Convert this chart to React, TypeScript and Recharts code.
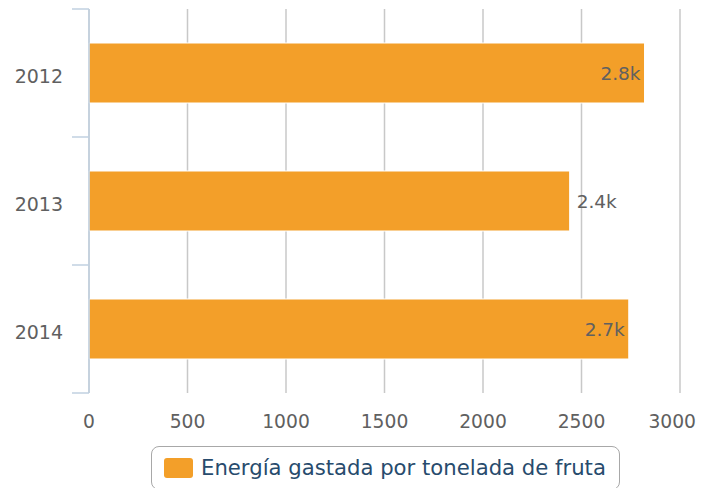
import React from 'react';
import { BarChart, Bar, XAxis, YAxis, CartesianGrid, Legend, LabelList } from 'recharts';

const years = ['2012', '2013', '2014'];
const energy = [2820, 2440, 2740];
const xTicks = [0, 500, 1000, 1500, 2000, 2500, 3000];
const seriesName = 'Energía gastada por tonelada de fruta';

const data = years.map((y, i) => ({ year: y, value: energy[i] }));

const FONT = '"DejaVu Sans", Verdana, sans-serif';
const ORANGE = '#f39f29';
const AXIS = '#c0d0e0';
const TEXT = '#606060';

const YTick = (props: any) => {
  const { x, y, payload, index, visibleTicksCount, height } = props;
  const half = payload && payload.offset ? payload.offset : height / visibleTicksCount / 2;
  return (
    <g>
      <line x1={x - 17} x2={x} y1={y - half} y2={y - half} stroke={AXIS} strokeWidth={1.5} />
      {index === visibleTicksCount - 1 && (
        <line x1={x - 17} x2={x} y1={y + half} y2={y + half} stroke={AXIS} strokeWidth={1.5} />
      )}
      <text x={x - 26} y={y + 9.5} textAnchor="end" fill={TEXT} fontSize={19} fontFamily={FONT}>
        {payload.value}
      </text>
    </g>
  );
};

const XTick = (props: any) => {
  const { x, y, payload, index, visibleTicksCount } = props;
  const last = index === visibleTicksCount - 1;
  return (
    <text
      x={last ? x + 16 : x}
      y={y + 35}
      textAnchor={last ? 'end' : 'middle'}
      fill={TEXT}
      fontSize={18.7}
      fontFamily={FONT}
    >
      {payload.value}
    </text>
  );
};

const BarLabel = (props: any) => {
  const { x, y, width, height, value } = props;
  const inside = value > 0.9 * xTicks[xTicks.length - 1];
  const endX = x + width;
  return (
    <text
      x={inside ? endX - 4 : endX + 7}
      y={y + height / 2 + 7}
      textAnchor={inside ? 'end' : 'start'}
      fill={TEXT}
      fontSize={18.5}
      fontFamily={FONT}
    >
      {(value / 1000).toFixed(1) + 'k'}
    </text>
  );
};

const LegendBox = () => (
  <div
    style={{
      boxSizing: 'border-box',
      width: 469,
      height: 44,
      border: '1.5px solid #a8a8a8',
      borderRadius: 8,
      display: 'flex',
      alignItems: 'center',
      paddingLeft: 12,
      fontFamily: FONT,
    }}
  >
    <div style={{ width: 29, height: 20, background: ORANGE, borderRadius: 3, marginRight: 8 }} />
    <span style={{ fontSize: 21.2, color: '#274b6d', whiteSpace: 'nowrap', lineHeight: '24px' }}>{seriesName}</span>
  </div>
);

export default function App() {
  return (
    <div style={{ position: 'absolute', left: 0, top: 0, width: 713, height: 488, background: '#fff' }}>
      <BarChart
        width={713}
        height={488}
        data={data}
        layout="vertical"
        margin={{ top: 9, right: 33, bottom: 55, left: 0 }}
        barCategoryGap={0}
      >
        <CartesianGrid horizontal={false} vertical={true} stroke="#c8c8c8" strokeWidth={1.5} />
        <XAxis
          type="number"
          domain={[0, 3000]}
          ticks={xTicks}
          axisLine={false}
          tickLine={false}
          tickSize={0}
          tickMargin={0}
          height={40}
          tick={<XTick />}
          interval={0}
        />
        <YAxis
          type="category"
          dataKey="year"
          width={89}
          axisLine={{ stroke: AXIS, strokeWidth: 1.5 }}
          tickLine={false}
          tickSize={0}
          tickMargin={0}
          tick={<YTick />}
          interval={0}
        />
        <Legend
          verticalAlign="middle"
          layout="horizontal"
          wrapperStyle={{ top: 446, left: 151, width: 469, height: 44 }}
          content={<LegendBox />}
        />
        <Bar dataKey="value" name={seriesName} fill={ORANGE} stroke="#ffffff" strokeWidth={1} barSize={60} isAnimationActive={false}>
          <LabelList dataKey="value" content={<BarLabel />} />
        </Bar>
      </BarChart>
    </div>
  );
}
